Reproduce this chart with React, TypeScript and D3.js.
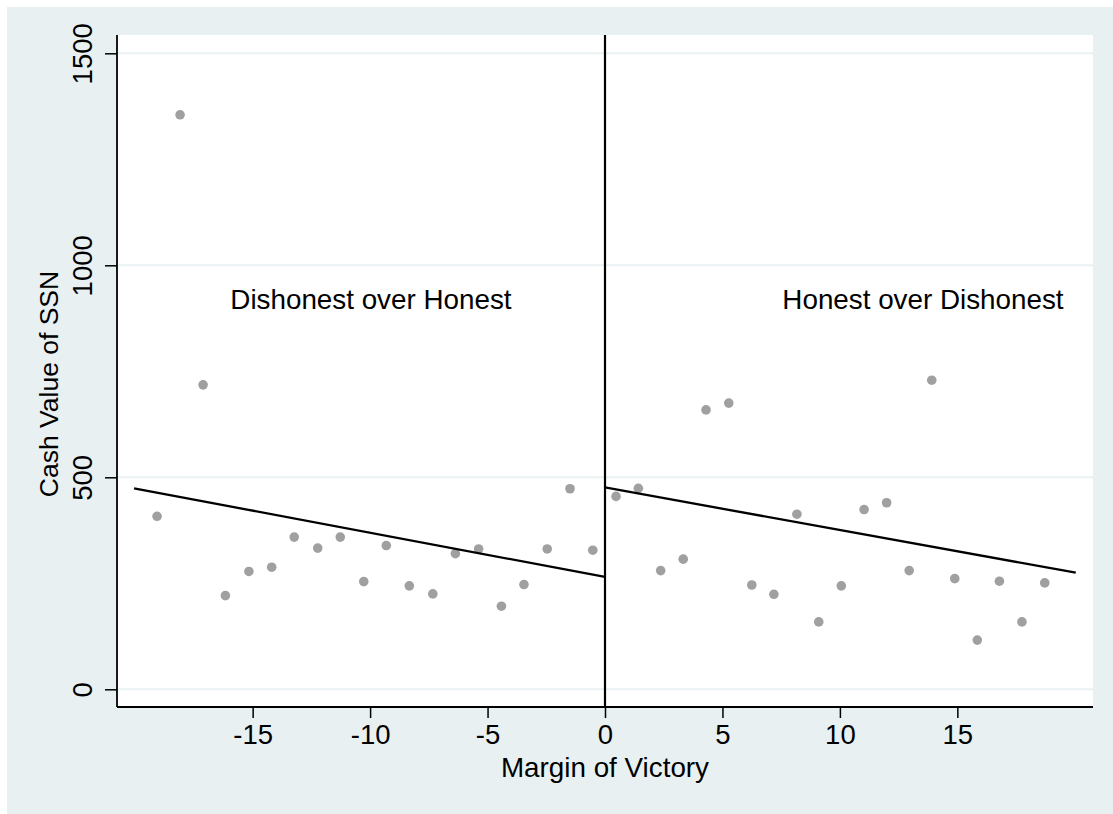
import React, { useEffect, useRef } from 'react'
import { select, scaleLinear, axisBottom, axisLeft, line } from 'd3'

// binned means, left of cutoff (dishonest over honest)
const leftX = [-19.07, -18.09, -17.11, -16.16, -15.16, -14.19, -13.23, -12.23, -11.27, -10.27,
  -9.31, -8.33, -7.33, -6.37, -5.38, -4.41, -3.45, -2.46, -1.49, -0.52]
const leftY = [408, 1355, 718, 221, 278, 288, 359, 333, 359, 254,
  339, 244, 225, 320, 331, 196, 247, 331, 473, 328]

// binned means, right of cutoff (honest over dishonest)
const rightX = [0.47, 1.42, 2.37, 3.33, 4.30, 5.27, 6.25, 7.19, 8.17, 9.10,
  10.06, 11.03, 11.99, 12.95, 13.91, 14.89, 15.85, 16.79, 17.75, 18.72]
const rightY = [455, 474, 280, 307, 659, 675, 246, 224, 413, 159,
  244, 424, 440, 280, 729, 261, 116, 255, 159, 251]

// linear fits: [x, y] at each end
const leftFit = [[-20.05, 474], [0, 265]]
const rightFit = [[0, 476], [20.04, 275]]

const xTicks = [-15, -10, -5, 0, 5, 10, 15]
const yTicks = [0, 500, 1000, 1500]

const notes = [
  { x: -15.95, y: 920, text: 'Dishonest over Honest' },
  { x: 7.55, y: 920, text: 'Honest over Dishonest' },
]

const App = () => {
  const svgRef = useRef(null)

  const width = 1113
  const height = 814
  const plot = { left: 117, right: 1093, top: 35, bottom: 707 }
  const font = '"Liberation Sans", Arial, sans-serif'

  useEffect(() => {
    const svg = select(svgRef.current)
    svg.selectAll('*').remove()

    const x = scaleLinear().domain([-20.775, 20.775]).range([plot.left, plot.right])
    const y = scaleLinear().domain([0, 1500]).range([689.3, 53.3])

    svg.append('rect')
      .attr('x', 7).attr('y', 7)
      .attr('width', width - 7).attr('height', height - 7)
      .attr('fill', '#e8f0f2')

    svg.append('rect')
      .attr('x', plot.left).attr('y', plot.top)
      .attr('width', plot.right - plot.left).attr('height', plot.bottom - plot.top)
      .attr('fill', '#fff')

    // gridlines
    svg.append('g').selectAll('line')
      .data(yTicks)
      .enter().append('line')
      .attr('x1', plot.left).attr('x2', plot.right)
      .attr('y1', d => y(d)).attr('y2', d => y(d))
      .attr('stroke', '#eaf2f3')
      .attr('stroke-width', 2)

    // cutoff line
    svg.append('line')
      .attr('x1', x(0)).attr('x2', x(0))
      .attr('y1', plot.top).attr('y2', plot.bottom)
      .attr('stroke', '#000')
      .attr('stroke-width', 2.2)

    const pts = leftX.map((d, i) => [d, leftY[i]]).concat(rightX.map((d, i) => [d, rightY[i]]))
    svg.append('g').selectAll('circle')
      .data(pts)
      .enter().append('circle')
      .attr('cx', d => x(d[0]))
      .attr('cy', d => y(d[1]))
      .attr('r', 4.8)
      .attr('fill', '#a0a0a0')

    const fitLine = line().x(d => x(d[0])).y(d => y(d[1]))
    ;[leftFit, rightFit].forEach(f => {
      svg.append('path')
        .attr('d', fitLine(f))
        .attr('fill', 'none')
        .attr('stroke', '#000')
        .attr('stroke-width', 2.3)
    })

    svg.append('g').selectAll('text')
      .data(notes)
      .enter().append('text')
      .attr('x', d => x(d.x))
      .attr('y', d => y(d.y))
      .attr('dy', '0.35em')
      .attr('font-size', 27.8)
      .attr('font-family', font)
      .attr('fill', '#000')
      .text(d => d.text)

    // x axis
    const gx = svg.append('g')
      .attr('transform', `translate(0, ${plot.bottom})`)
      .call(axisBottom(x).tickValues(xTicks).tickSize(11).tickPadding(6).tickFormat(d => `${d}`.replace('−', '-')))
    gx.select('.domain').remove()
    gx.append('line')
      .attr('x1', plot.left).attr('x2', plot.right)
      .attr('stroke', '#000').attr('stroke-width', 1.8)
    gx.selectAll('.tick line').attr('stroke', '#000').attr('stroke-width', 1.5)
    gx.selectAll('.tick text')
      .attr('font-size', 27.5)
      .attr('font-family', font)
      .attr('fill', '#000')

    // y axis
    const gy = svg.append('g')
      .attr('transform', `translate(${plot.left}, 0)`)
      .call(axisLeft(y).tickValues(yTicks).tickSize(12).tickFormat(d => `${d}`))
    gy.select('.domain').remove()
    gy.append('line')
      .attr('y1', plot.top).attr('y2', plot.bottom)
      .attr('stroke', '#000').attr('stroke-width', 1.8)
    gy.selectAll('.tick line').attr('stroke', '#000').attr('stroke-width', 1.5)
    gy.selectAll('.tick text')
      .attr('x', null).attr('dy', null)
      .attr('transform', 'translate(-25, 0) rotate(-90)')
      .attr('text-anchor', 'middle')
      .attr('font-size', 27.5)
      .attr('font-family', font)
      .attr('fill', '#000')

    svg.append('text')
      .attr('x', (plot.left + plot.right) / 2)
      .attr('y', 777)
      .attr('text-anchor', 'middle')
      .attr('font-size', 27.8)
      .attr('font-family', font)
      .text('Margin of Victory')

    svg.append('text')
      .attr('transform', 'translate(58, 384) rotate(-90)')
      .attr('text-anchor', 'middle')
      .attr('font-size', 26.5)
      .attr('font-family', font)
      .text('Cash Value of SSN')
  }, [])

  return (
    <svg ref={svgRef} width={width} height={height}
      style={{ position: 'absolute', left: 0, top: 0, display: 'block' }} />
  )
}

export default App
